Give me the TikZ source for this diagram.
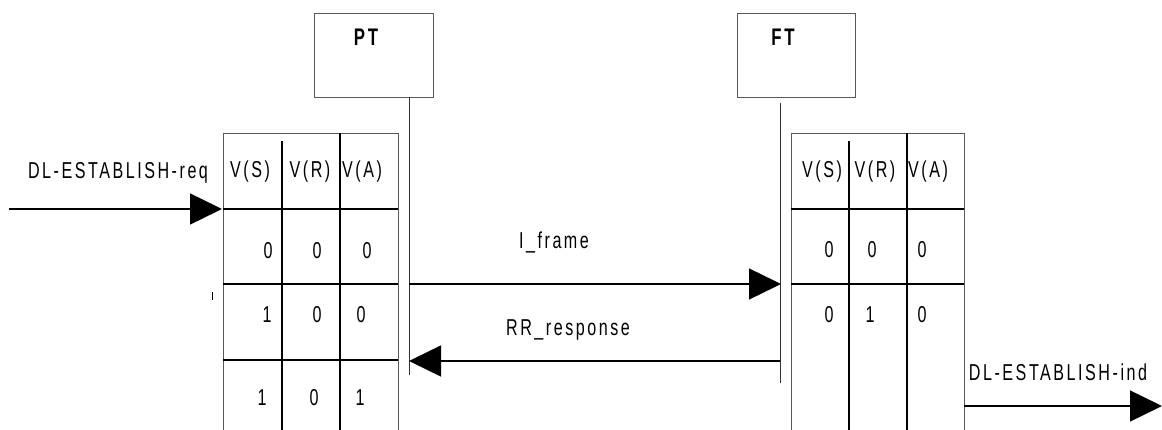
\documentclass[tikz,border=0pt]{standalone}
\usepackage{fontspec}
\newfontfamily\dfont[FakeStretch=0.70,LetterSpace=11]{Liberation Sans}
\usetikzlibrary{arrows.meta}
\begin{document}
\begin{tikzpicture}[x=1pt,y=-1pt,
  every node/.style={font=\dfont\fontsize{23}{26}\selectfont, inner sep=0pt},
  frame/.style={draw=black!65, line width=0.9pt},
  grid/.style={draw=black, line width=1.4pt},
  msg/.style={draw=black, line width=1.4pt, -{Triangle[length=32pt,width=31pt]}},
  life/.style={draw=black!80, line width=0.8pt},
  entity/.style={draw=black!65, line width=0.9pt, minimum width=119pt, minimum height=84pt},
  title/.style={font=\dfont\bfseries\fontsize{24}{27}\selectfont}]
\useasboundingbox (0,0) rectangle (1162,430);
\fill[white] (0,0) rectangle (1162,430);

% entities
\node[entity] (PT) at (373.5,55) {};
\node[title] (PTl) at (366,37) {PT};
\node[entity, minimum width=118pt] (FT) at (796,55) {};
\node[title] (FTl) at (783,37) {FT};

% lifelines
\coordinate (pt1) at (409,97);
\coordinate (pt2) at (409,375);
\coordinate (ft1) at (780,103);
\coordinate (ft2) at (780,383);
\draw[life] (pt1) -- (pt2);
\draw[life] (ft1) -- (ft2);

% left table
\draw[frame] (223,430) -- (223,133) -- (398,133) -- (398,430);
\draw[grid] (282,141) -- (282,430);
\draw[grid] (340,133) -- (340,430);
\draw[grid] (223,209) -- (398,209);
\draw[grid] (223,284) -- (398,284);
\draw[grid] (223,360) -- (398,360);

% right table
\draw[frame] (791,430) -- (791,133) -- (964,133) -- (964,430);
\draw[grid] (849,141) -- (849,430);
\draw[grid] (907,133) -- (907,430);
\draw[grid] (791,209) -- (964,209);
\draw[grid] (791,284) -- (964,284);

% headers
\node (lhS) at (250,172) {V(S)};
\node (lhR) at (310,172) {V(R)};
\node (lhA) at (362,172) {V(A)};
\node (rhS) at (822,172) {V(S)};
\node (rhR) at (875,172) {V(R)};
\node (rhA) at (928,172) {V(A)};

% left values
\node (l11) at (268,251) {0};
\node (l12) at (317,251) {0};
\node (l13) at (367,251) {0};
\node (l21) at (267,315) {1};
\node (l22) at (317,315) {0};
\node (l23) at (361,315) {0};
\node (l31) at (262,398) {1};
\node (l32) at (314,398) {0};
\node (l33) at (360,398) {1};

% right values
\node (r11) at (829,250) {0};
\node (r12) at (872,250) {0};
\node (r13) at (922,250) {0};
\node (r21) at (829,315) {0};
\node (r22) at (870,315) {1};
\node (r23) at (922,315) {0};

% messages
\coordinate (reqS) at (9,209);
\coordinate (reqE) at (222,209);
\draw[msg] (reqS) -- (reqE);
\node (reqL) at (118,173) {DL-ESTABLISH-req};

\coordinate (if1) at (409,284);
\coordinate (if2) at (781,284);
\draw[msg] (if1) -- (if2);
\node (ifL) at (554,242) {I\_frame};

\coordinate (rr1) at (780,361);
\coordinate (rr2) at (409,361);
\draw[msg] (rr1) -- (rr2);
\node (rrL) at (568,330) {RR\_response};

\coordinate (ind1) at (964,406);
\coordinate (ind2) at (1162,406);
\draw[msg] (ind1) -- (ind2);
\node (indL) at (1058,372) {DL-ESTABLISH-ind};

% stray tick
\coordinate (tk1) at (212,292);
\coordinate (tk2) at (212,300);
\draw[line width=1pt] (tk1) -- (tk2);
\end{tikzpicture}
\end{document}
